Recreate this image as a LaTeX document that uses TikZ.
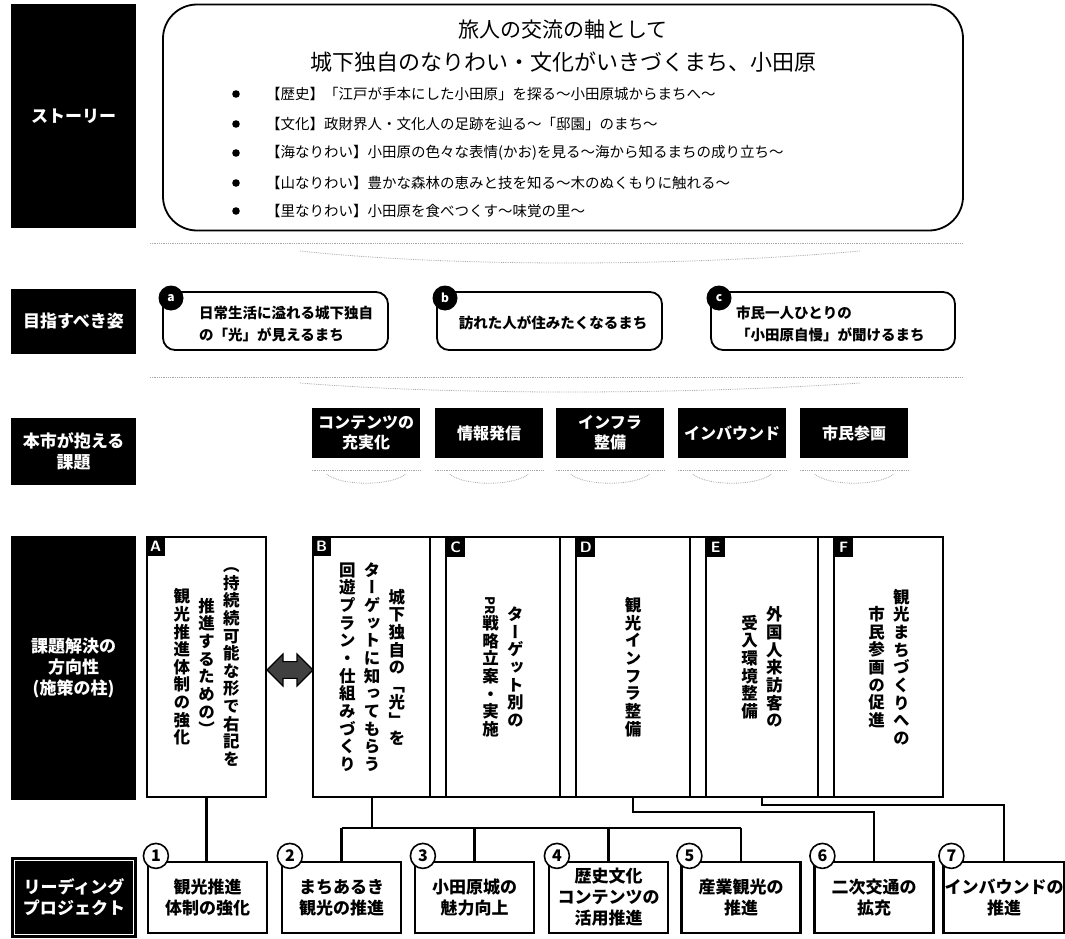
\documentclass[tikz,border=0pt]{standalone}
\usepackage{fontspec}
\usepackage{graphicx}
\setmainfont{Noto Sans CJK JP}
\newfontfamily\tatefont[RawFeature=+vert]{Noto Sans CJK JP}
\usetikzlibrary{calc,shapes.arrows}

\ExplSyntaxOn
\NewDocumentCommand \tcol { m }
  {
    \hskip 0.25em
    \vcenter
      {
        \baselineskip = 1.07em
        \lineskiplimit = -\maxdimen
        \tl_map_inline:nn {#1} { \hbox_to_wd:nn { 1em } { \hss ##1 \hss } }
      }
    \hskip 0.25em
  }
\ExplSyntaxOff

\begin{document}
\begin{tikzpicture}[x=1pt,y=-1pt,
		sidebox/.style={fill=black, text=white, align=center, inner sep=0pt, font=\bfseries\fontsize{17}{21}\selectfont},
		goalbox/.style={draw, line width=1.8, rounded corners=12pt, minimum width=225, minimum height=58},
		goaltext/.style={align=left, inner sep=0pt, font=\bfseries\fontsize{14.5}{22}\selectfont},
		goaldot/.style={circle, fill=black, text=white, minimum size=25, inner sep=0pt, font=\bfseries\fontsize{12}{12}\selectfont},
		issuebox/.style={fill=black, text=white, align=center, minimum width=108, minimum height=50, inner sep=0pt, font=\bfseries\fontsize{16}{20}\selectfont},
		pillarcol/.style={minimum height=260, inner sep=0pt},
		tatetext/.style={font=\tatefont\bfseries\fontsize{16.5}{16.5}\selectfont},
		tagbox/.style={fill=black, text=white, minimum width=19, minimum height=20, inner sep=0pt, anchor=north west, font=\sffamily\bfseries\fontsize{15}{15}\selectfont},
		projbox/.style={draw, line width=2.2, fill=white, minimum width=119, minimum height=71, inner sep=1pt, align=center, font=\bfseries\fontsize{17}{21}\selectfont},
		numdot/.style={circle, draw, line width=1.6, fill=white, minimum size=25, inner sep=0pt, font=\bfseries\fontsize{16}{16}\selectfont},
		connline/.style={line width=2.3},
		fadeline/.style={black!35, densely dotted, line width=0.8}]
	\useasboundingbox (0,0) rectangle (1065,939);

	\node[sidebox, minimum width=125, minimum height=224] (lStory) at (73.5,116) {ストーリー};
	\node[sidebox, minimum width=125, minimum height=65] (lGoal) at (73.5,321.5) {目指すべき姿};
	\node[sidebox, minimum width=125, minimum height=67] (lIssue) at (73.5,451.5) {本市が抱える\\課題};
	\node[sidebox, minimum width=125, minimum height=264] (lPillar) at (73.5,668) {課題解決の\\方向性\\(施策の柱)};
	\node[sidebox, minimum width=126, minimum height=81] (lLead) at (74,897.5) {リーディング\\プロジェクト};
	\draw[white, line width=1] ($(lLead.north west)+(4,4)$) rectangle ($(lLead.south east)+(-4,-4)$);

	\node[draw, line width=1.8, rounded corners=34pt, minimum width=800, minimum height=226] (story) at (563,117.5) {};
	\node[font=\fontsize{21}{21}\selectfont] (sTitle) at (563,30) {旅人の交流の軸として};
	\node[font=\fontsize{22}{22}\selectfont] (sSub) at (563,62) {城下独自のなりわい・文化がいきづくまち、小田原};
	\foreach \y/\txt [count=\i] in {
			94/{【歴史】「江戸が手本にした小田原」を探る〜小田原城からまちへ〜},
			124/{【文化】政財界人・文化人の足跡を辿る〜「邸園」のまち〜},
			153/{【海なりわい】小田原の色々な表情(かお)を見る〜海から知るまちの成り立ち〜},
			183/{【山なりわい】豊かな森林の恵みと技を知る〜木のぬくもりに触れる〜},
			211/{【里なりわい】小田原を食べつくす〜味覚の里〜}} {
		\fill (236,\y) circle (3.8pt);
		\node[anchor=west, inner sep=0pt, font=\fontsize{14.5}{14.5}\selectfont] (sItem\i) at (266,\y) {\txt};
	}

	\draw[fadeline] (150,243) -- (962,243);
	\draw[fadeline] (300,251) .. controls (450,267) and (680,267) .. (860,251);

	\node[goalbox] (gA) at (275.5,321) {};
	\node[goalbox] (gB) at (549.5,321) {};
	\node[goalbox, minimum width=244] (gC) at (833,321) {};
	\node[goaltext, anchor=west] (gAtext) at (199,324) {日常生活に溢れる城下独自\\の「光」が見えるまち};
	\node[goaltext] (gBtext) at (553,323) {訪れた人が住みたくなるまち};
	\node[goaltext, anchor=west] (gCtext) at (736,324) {市民一人ひとりの\\「小田原自慢」が聞けるまち};
	\node[goaldot] (dotA) at (171,298) {a};
	\node[goaldot] (dotB) at (445,298) {b};
	\node[goaldot] (dotC) at (719,298) {c};

	\draw[fadeline] (150,377) -- (962,377);
	\draw[fadeline] (300,383) .. controls (450,395) and (680,395) .. (860,383);

	\node[issuebox] (i1) at (366,433) {コンテンツの\\充実化};
	\node[issuebox] (i2) at (489,433) {情報発信};
	\node[issuebox] (i3) at (610,433) {インフラ\\整備};
	\node[issuebox] (i4) at (732,433) {インバウンド};
	\node[issuebox] (i5) at (854,433) {市民参画};
	\foreach \n in {i1,i2,i3,i4,i5} {
		\draw[fadeline] ($(\n.south west)+(0,12)$) -- ($(\n.south east)+(0,12)$);
		\draw[fadeline] ($(\n.south west)+(15,16)$) .. controls ($(\n.south)+(-25,28)$) and ($(\n.south)+(25,28)$) .. ($(\n.south east)+(-15,16)$);
	}

	\node[draw, line width=2, pillarcol, tatetext, minimum width=119] (dA) at (206.5,667) {$\tcol{観光推進体制の強化}\tcol{推進するための）}\tcol{（持続続可能な形で右記を}$};
	\node[draw, line width=2, pillarcol, minimum width=630] (dFrame) at (628,667) {};
	\foreach \xa in {430,446,560,576,690,706,818,834}
		\draw[line width=1.1] (\xa,537) -- (\xa,797);
	\node[pillarcol, tatetext, minimum width=114] (cB) at (372,667) {$\tcol{回遊プラン・仕組みづくり}\tcol{ターゲットに知ってもらう}\tcol{城下独自の「光」を}$};
	\node[pillarcol, tatetext, minimum width=114] (cC) at (503,667) {$\tcol{{\raisebox{0.9em}{\rotatebox{-90}{\fontsize{13}{13}\selectfont PR}}}戦略立案・実施}\tcol{ターゲット別の}$};
	\node[pillarcol, tatetext, minimum width=114] (cD) at (633,667) {$\tcol{観光インフラ整備}$};
	\node[pillarcol, tatetext, minimum width=112] (cE) at (762,667) {$\tcol{受入環境整備}\tcol{外国人来訪客の}$};
	\node[pillarcol, tatetext, minimum width=109] (cF) at (889,667) {$\tcol{市民参画の促進}\tcol{観光まちづくりへの}$};
	\node[tagbox] (tA) at (dA.north west) {A};
	\node[tagbox] (tB) at (dFrame.north west) {B};
	\node[tagbox] (tC) at (446,537) {C};
	\node[tagbox] (tD) at (576,537) {D};
	\node[tagbox] (tE) at (706,537) {E};
	\node[tagbox] (tF) at (834,537) {F};
	\node[double arrow, draw, line width=1.2, fill=black!75, minimum height=46, minimum width=32, double arrow head extend=6pt, inner sep=6pt] (dArrow) at (290,670) {};

	\foreach \i/\x/\txt in {
			1/207.5/{観光推進\\体制の強化},
			2/341.5/{まちあるき\\観光の推進},
			3/474.5/{小田原城の\\魅力向上},
			4/608.5/{歴史文化\\コンテンツの\\活用推進},
			5/741/{産業観光の\\推進},
			6/874/{二次交通の\\拡充},
			7/1004/{インバウンドの\\推進}} {
		\node[projbox] (p\i) at (\x,897.5) {\txt};
		\node[numdot] (n\i) at ($(p\i.north west)+(9,-5)$) {\i};
	}

	\draw[connline] (dA.south) -- (dA.south |- p1.north);
	\coordinate (bBar) at ($(cB.south)+(0,31)$);
	\draw[connline] (cB.south) -- (bBar);
	\draw[connline] (p2.north |- bBar) -- (p5.north |- bBar);
	\foreach \p in {p2,p3,p4,p5}
		\draw[connline] (\p.north |- bBar) -- (\p.north);
	\draw[connline] (cD.south) -- ++(0,15) -| (p6.north);
	\draw[connline] (cE.south) -- ++(0,8) -| (p7.north);
\end{tikzpicture}
\end{document}
